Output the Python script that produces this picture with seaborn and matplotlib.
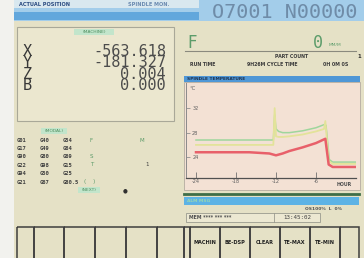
import pandas as pd
import seaborn as sns
import matplotlib.pyplot as plt
from matplotlib.patches import Rectangle

#=====================
# Data
#=====================

axis_names = ['X', 'Y', 'Z', 'B']
axis_values = ['-563.618', '-181.327', '0.004', '0.000']

modal_rows = [['G01', 'G40', 'G54'],
              ['G17', 'G49', 'G64'],
              ['G90', 'G80', 'G69'],
              ['G22', 'G98', 'G15'],
              ['G94', 'G50', 'G25'],
              ['G21', 'G67', 'G80.5']]

softkeys = ['', '', '', '', '', '', '', 'MACHIN', 'BE-DSP', 'CLEAR', 'TE-MAX', 'TE-MIN', '']

# spindle temperature, last 24 hours
hours_green = [-24, -12.4, -12.2, -12.0, -11.6, -11.0, -10.0, -8.0, -6.0, -4.8, -4.5, -4.0, -3.5, -2.0, 0.0]
temp_green = [26.8, 26.8, 30.9, 28.6, 28.2, 28.0, 28.0, 28.3, 28.8, 29.3, 29.2, 23.6, 23.2, 23.2, 23.2]

hours_yellow = [-24, -12.4, -12.2, -12.0, -11.6, -11.0, -10.0, -8.0, -6.0, -4.8, -4.6, -4.1, -3.5, -2.0, 0.0]
temp_yellow = [26.0, 26.0, 32.0, 27.4, 27.3, 27.3, 27.4, 27.7, 28.2, 28.6, 29.9, 23.4, 22.9, 22.9, 22.9]

hours_red = [-24, -16, -13, -12, -11, -10, -8, -6, -4.6, -4.1, -3.5, -2, 0]
temp_red = [24.8, 24.8, 24.6, 24.3, 24.6, 25.0, 25.6, 26.3, 27.0, 22.8, 22.4, 22.4, 22.4]

xticks = [-24, -18, -12, -6]
yticks = [24, 28, 32]

temp = pd.concat([
    pd.DataFrame({'Hour': hours_green, 'Temp': temp_green, 'Sensor': 'green'}),
    pd.DataFrame({'Hour': hours_yellow, 'Temp': temp_yellow, 'Sensor': 'yellow'}),
    pd.DataFrame({'Hour': hours_red, 'Temp': temp_red, 'Sensor': 'red'}),
])
colors = {'green': '#9fd69c', 'yellow': '#e3e39a', 'red': '#e8606a'}
widths = {'green': 1.1, 'yellow': 1.3, 'red': 1.8}

#=====================
# Screen
#=====================

W, H = 364, 258
fig = plt.figure(figsize=(W / 100, H / 100), dpi=100)
bg = fig.add_axes([0, 0, 1, 1])
bg.set_xlim(0, W)
bg.set_ylim(H, 0)
bg.axis('off')

def box(x, y, w, h, fc, ec='none', lw=0.8, z=1):
    bg.add_patch(Rectangle((x, y), w, h, facecolor=fc, edgecolor=ec, linewidth=lw, zorder=z))

def txt(x, y, s, size=3.6, color='#3a3a3a', ha='left', **kw):
    bg.text(x, y, s, fontsize=size, color=color, ha=ha, va='center', zorder=5, **kw)

box(0, 0, W, H, '#f2f2ee', z=0)
box(14, 0, W - 14, H, '#e5e1c6', z=0)

# top bar
box(14, 0, W - 14, 21, '#a3cdea')
box(14, 0, 185, 8, '#d9e8ef')
box(14, 12, 185, 8, '#62a7dc')
txt(19, 4, 'ACTUAL POSITION', color='#2a4a80', weight='bold')
txt(128, 4, 'SPINDLE MON.', color='#6a8ab0', weight='bold')
txt(357, 12, 'O7001 N00000', size=14.5, color='#6f8ca8', ha='right', family='DejaVu Sans Mono')

# position box (one block per column so the rows sit tight like the screen)
box(17, 27, 157, 94, '#ebe7cf', ec='#a9a898')
box(74, 29, 40, 6, '#c2e5cb')
txt(94, 32, '(MACHINE)', size=3.2, color='#4d8d5e', ha='center')
txt(23, 68.5, '\n'.join(axis_names), size=11, color='#383838',
    family='DejaVu Sans Mono', linespacing=0.72)
txt(166, 68.5, '\n'.join(axis_values), size=11, color='#4c4c4c', ha='right',
    family='DejaVu Sans Mono', linespacing=0.72, multialignment='right')

# modal codes
box(41, 128, 26, 6, '#c2e5cb')
txt(54, 131, '(MODAL)', size=3.2, color='#4d8d5e', ha='center')
for i, row in enumerate(modal_rows):
    y = 140 + i * 8.4
    for j, code in enumerate(row):
        txt(17 + j * 23, y, code, size=4, color='#404040', weight='bold', family='DejaVu Sans Mono')
txt(90, 140, 'F', size=4, color='#5a9a68')
txt(140, 140, 'M', size=4, color='#5a9a68')
txt(90, 157, 'S', size=4, color='#5a9a68')
txt(90, 165, 'T', size=4, color='#5a9a68')
txt(145, 165, '1', size=4, color='#404040')
txt(84, 182, '(    )', size=4, color='#5a9a68')
box(78, 187, 22, 6, '#c2e5cb')
txt(89, 190, '(NEXT)', size=3.2, color='#4d8d5e', ha='center')
txt(125, 191, '\u25cf', size=4, color='#303030', ha='center')

# feed / counters
txt(187, 43, 'F', size=12, color='#5c9c6a')
txt(318, 43, '0', size=12, color='#5c9c6a', ha='center', family='DejaVu Sans Mono')
txt(329, 45, 'MM/M', size=3.2, color='#5c9c6a')
bg.plot([185, 356], [50.5, 50.5], color='#8a8a7e', lw=0.8, zorder=4)
txt(275, 56, 'PART COUNT', size=3.4, color='#3c3c3c', weight='bold')
txt(361, 57, '1', size=3.8, color='#303030', ha='right', weight='bold')
txt(190, 64, 'RUN TIME', size=3.4, color='#3c3c3c', weight='bold')
txt(247, 64, '9H26M CYCLE TIME', size=3.4, color='#3c3c3c', weight='bold')
txt(323, 64, '0H 0M 0S', size=3.4, color='#3c3c3c', weight='bold')

# chart frame
box(184, 76, 176, 6, '#4f97d6')
txt(187, 79, 'SPINDLE TEMPERATURE', size=3.2, color='#1e3452', weight='bold')
box(184, 82, 176, 108, '#f3e1d4', ec='#b4aca0', lw=0.6)
txt(189, 88, '\u00b0C', size=3.8, color='#606060')

# status area
bg.plot([184, 359], [193.5, 193.5], color='#3e6e48', lw=2, zorder=4)
box(184, 197, 175, 8, '#5db3e5')
txt(187, 201, 'ALM MSG', size=3.2, color='#9ad8b0', weight='bold')
txt(305, 209, 'OS100%  L  0%', size=3.2, color='#505050', weight='bold')
box(186, 213, 134, 9, '#ece8d2', ec='#9a9a8e', lw=0.6)
bg.plot([274, 274], [213, 222], color='#9a9a8e', lw=0.6, zorder=4)
txt(189, 217.5, 'MEM **** *** ***', size=3.4, color='#505050', weight='bold')
txt(297, 217.5, '13:45:02', size=4.2, color='#404040', ha='center', family='DejaVu Sans Mono')

# soft keys
edges = [17, 34, 64, 95, 126, 157, 184, 190, 220, 250, 280, 310, 340, 359]
for k, label in enumerate(softkeys):
    x0, x1 = edges[k], edges[k + 1]
    box(x0, 227, x1 - x0, 40, 'none', ec='#3e3e3e', lw=1.1, z=3)
    txt((x0 + x1) / 2, 243, label, size=3.6, color='#202020', ha='center', weight='bold')

#=====================
# Spindle temperature plot
#=====================

ax = fig.add_axes([186 / W, 1 - 178 / H, 170 / W, 95 / H])
ax.set_facecolor('none')
for s in temp['Sensor'].unique():
    sns.lineplot(data=temp[temp['Sensor'] == s], x='Hour', y='Temp', color=colors[s],
                 lw=widths[s], estimator=None, sort=False, ax=ax, legend=False)
ax.set_xlim(-25.5, 0)
ax.set_ylim(20.6, 36.1)
ax.set_xticks(xticks)
ax.set_yticks(yticks)
ax.set_xticklabels([str(t) for t in xticks])
ax.set_yticklabels([str(t) for t in yticks])
ax.tick_params(axis='x', direction='in', length=4, width=0.6, color='#707070',
               labelsize=3.6, labelcolor='#606060', pad=1)
ax.tick_params(axis='y', direction='in', length=3, width=0.6, color='#909090',
               labelsize=3.6, labelcolor='#606060', pad=-9)
ax.set_xlabel('')
ax.set_ylabel('')
ax.text(0.93, -0.04, 'HOUR', transform=ax.transAxes, fontsize=3.4, color='#505050',
        ha='center', va='top', weight='bold')
for side in ['top', 'right']:
    ax.spines[side].set_visible(False)
ax.spines['left'].set_color('#8a8a8a')
ax.spines['bottom'].set_color('#505050')
ax.spines['left'].set_linewidth(0.7)
ax.spines['bottom'].set_linewidth(0.9)

fig.savefig('out.png', dpi=100)
